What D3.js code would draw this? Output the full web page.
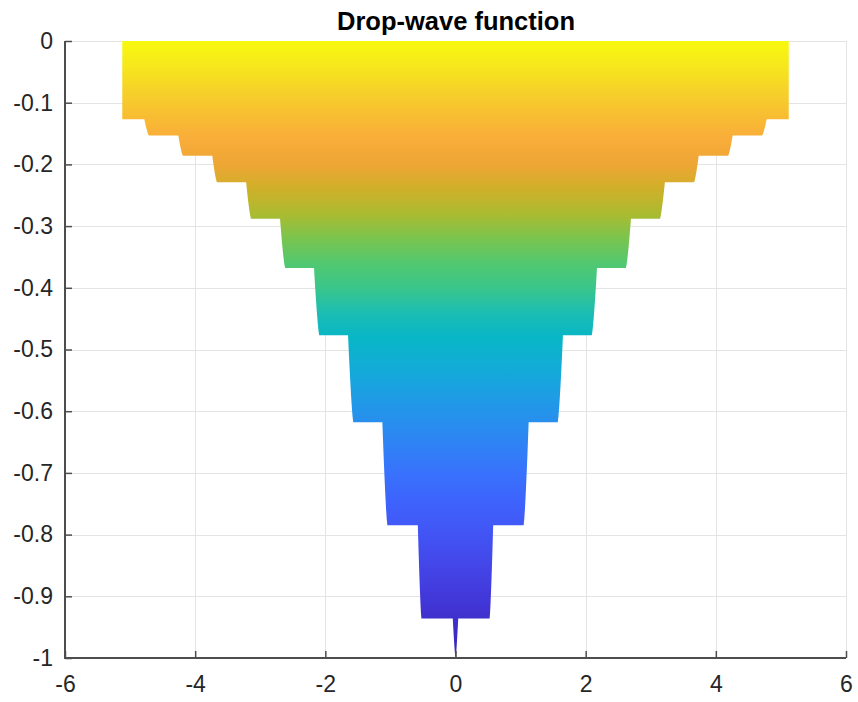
<!DOCTYPE html>
<html>
<head>
<meta charset="utf-8">
<script src="https://cdn.jsdelivr.net/npm/d3@7"></script>
<style>
  html, body { margin: 0; padding: 0; background: #ffffff; }
  svg { display: block; }
  .tick text { font-family: "Liberation Sans", Arial, Helvetica, sans-serif; }
</style>
</head>
<body>
<svg id="chart" width="858" height="702"></svg>
<script>
// ---- data -------------------------------------------------------------
// Side view (x against f) of the drop-wave surface on [-5.12, 5.12]^2.
const domainHalfWidth = 5.12;
// |x| at which each ring of minima stops being reachable (step edges)
const ringRadius = [0.524, 1.047, 1.571, 2.094, 2.618, 3.142, 3.665, 4.189, 4.712];
// lowest f value reached between successive step edges, innermost first
const stepFloor = [-0.936, -0.785, -0.618, -0.477, -0.368, -0.288, -0.229, -0.186, -0.153, -0.127];
// horizontal spread of each slanted step edge (x units)
const edgeSpread = [0.055, 0.077, 0.080, 0.080, 0.078, 0.075, 0.072, 0.070, 0.069];
// central dip down to the global minimum
const dipDepth = -1;
const dipHalfWidth = 0.042;
const surfaceTop = 0;

const xTicks = [-6, -4, -2, 0, 2, 4, 6];
const xTickLabels = ["-6", "-4", "-2", "0", "2", "4", "6"];
const yTicks = [-1, -0.9, -0.8, -0.7, -0.6, -0.5, -0.4, -0.3, -0.2, -0.1, 0];
const yTickLabels = ["-1", "-0.9", "-0.8", "-0.7", "-0.6", "-0.5", "-0.4", "-0.3", "-0.2", "-0.1", "0"];

// colour map over f (value -> colour)
const cmapValues = [0, -0.04, -0.08, -0.12, -0.16, -0.2, -0.24, -0.28, -0.32, -0.36, -0.40,
                    -0.44, -0.48, -0.52, -0.56, -0.60, -0.65, -0.70, -0.75, -0.80, -0.85, -0.90, -0.95, -1];
const cmapColours = ["#f8f90e", "#f6e81c", "#f6d228", "#f8be32", "#f9ac3a", "#eea634", "#cfb02a",
                     "#abbb30", "#7ac44e", "#52c870", "#3ac68a", "#1cbdb2", "#08b6c6", "#10aed4",
                     "#1aa2e0", "#2494ea", "#2e84f4", "#3872fc", "#3e62fc", "#4254f4", "#4446e8",
                     "#4238da", "#3e2ec8", "#3a26b4"];

// ---- layout -----------------------------------------------------------
const svg = d3.select("#chart");
const plot = { left: 65, right: 846, top: 41, bottom: 658 };

const x = d3.scaleLinear().domain([-6, 6]).range([plot.left, plot.right]);
const y = d3.scaleLinear().domain([-1, 0]).range([plot.bottom, plot.top]);

// gradient follows f vertically
const defs = svg.append("defs");
const grad = defs.append("linearGradient")
  .attr("id", "fgrad")
  .attr("gradientUnits", "userSpaceOnUse")
  .attr("x1", 0).attr("x2", 0)
  .attr("y1", y(0)).attr("y2", y(-1));
cmapValues.forEach((v, i) => {
  grad.append("stop")
    .attr("offset", (y(v) - y(0)) / (y(-1) - y(0)))
    .attr("stop-color", cmapColours[i]);
});

// grid
const grid = svg.append("g").attr("stroke", "#e4e4e4").attr("stroke-width", 1).attr("shape-rendering", "crispEdges");
grid.selectAll("line.v").data(xTicks).join("line")
  .attr("x1", d => Math.round(x(d)) + 0.5).attr("x2", d => Math.round(x(d)) + 0.5)
  .attr("y1", plot.top).attr("y2", plot.bottom);
grid.selectAll("line.h").data(yTicks).join("line")
  .attr("y1", d => Math.round(y(d)) + 0.5).attr("y2", d => Math.round(y(d)) + 0.5)
  .attr("x1", plot.left).attr("x2", plot.right);

// ---- outline of the projected surface --------------------------------
// Edges are sampled coarsely, so each step edge is a nearly straight slant
// with only a slight bend near its foot.
const bend = 1.35;
const right = [];
right.push([0, surfaceTop]);
right.push([domainHalfWidth, surfaceTop]);
right.push([domainHalfWidth, stepFloor[stepFloor.length - 1]]);
const samples = 8;
for (let k = ringRadius.length - 1; k >= 0; k--) {
  const up = stepFloor[k + 1], low = stepFloor[k];
  const r = ringRadius[k], s = edgeSpread[k];
  for (let i = samples; i >= 0; i--) {
    const t = i / samples;
    right.push([r + s * t, low + (up - low) * Math.pow(t, bend)]);
  }
}
for (let i = samples; i >= 0; i--) {
  const t = i / samples;
  right.push([dipHalfWidth * t, dipDepth + (stepFloor[0] - dipDepth) * Math.pow(t, bend)]);
}
const left = right.slice().reverse().map(([px, pz]) => [-px, pz]);
const outline = right.concat(left);

const line = d3.line().x(d => x(d[0])).y(d => y(d[1]));
svg.append("path")
  .attr("d", line(outline) + "Z")
  .attr("fill", "url(#fgrad)")
  .attr("stroke", "none");

// ---- axes ---------------------------------------------------------------
const axisColour = "#4d4d4d";
const labelColour = "#262626";

const yAxis = d3.axisLeft(y)
  .tickValues(yTicks)
  .tickFormat((d, i) => yTickLabels[i])
  .tickSize(-7)
  .tickPadding(12);
const gy = svg.append("g").attr("transform", `translate(${plot.left},0)`).call(yAxis);

const xAxis = d3.axisBottom(x)
  .tickValues(xTicks)
  .tickFormat((d, i) => xTickLabels[i])
  .tickSize(-7)
  .tickPadding(18);
const gx = svg.append("g").attr("transform", `translate(0,${plot.bottom})`).call(xAxis);

[gx, gy].forEach(g => {
  g.select(".domain").remove();
  g.selectAll(".tick line").attr("stroke", axisColour).attr("stroke-width", 1.5);
  g.selectAll(".tick text")
    .attr("fill", labelColour)
    .style("font-size", "23px")
    .style("font-family", "'Liberation Sans', Arial, Helvetica, sans-serif");
});

// axis lines (left and bottom only)
svg.append("line")
  .attr("x1", plot.left).attr("x2", plot.left)
  .attr("y1", plot.top).attr("y2", plot.bottom + 1)
  .attr("stroke", axisColour).attr("stroke-width", 2);
svg.append("line")
  .attr("x1", plot.left - 1).attr("x2", plot.right)
  .attr("y1", plot.bottom).attr("y2", plot.bottom)
  .attr("stroke", axisColour).attr("stroke-width", 2);

// title
svg.append("text")
  .attr("x", 456).attr("y", 30)
  .attr("text-anchor", "middle")
  .attr("font-family", "'Liberation Sans', Arial, Helvetica, sans-serif")
  .attr("font-weight", "bold")
  .attr("font-size", 25.5)
  .attr("fill", "#000")
  .text("Drop-wave function");
</script>
</body>
</html>
